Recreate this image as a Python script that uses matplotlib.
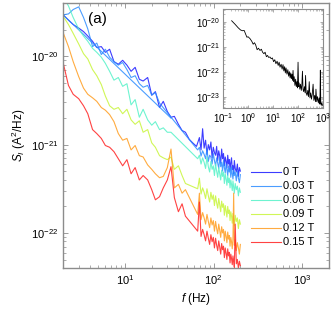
import numpy as np
import matplotlib
matplotlib.use("Agg")
import matplotlib.pyplot as plt
from matplotlib.ticker import LogLocator, NullFormatter

plt.rcParams['font.family'] = ['Liberation Sans', 'DejaVu Sans']
plt.rcParams['mathtext.fontset'] = 'custom'
plt.rcParams['mathtext.rm'] = 'Liberation Sans'
plt.rcParams['mathtext.it'] = 'Liberation Sans:italic'

nan = np.nan

# frequency grid (Hz): low part and dense part
F_lo = [2.0, 2.3, 2.6, 3.0, 3.4, 3.8, 4.3, 4.8, 5.4, 6.0, 6.7, 7.5, 8.4, 9.4,
        10.5, 11.7, 13, 14.5, 16, 18, 20, 22, 24.5, 27, 30, 33, 36, 40, 44,
        48, 53, 58, 64]
F_hi = [66, 69, 72, 75, 78, 81, 84, 87, 90, 93, 96, 99, 102, 105, 108, 111,
        114, 117, 120, 123, 126, 129, 132, 135, 138, 141, 144, 147, 150, 153,
        156, 159, 162, 165, 168, 171, 175, 180, 185, 190, 195, 200]

# log10 of S_I (A^2/Hz), nan = missing point
b0_lo = [-19.53, -19.59, -19.64, -19.68, -19.72, -19.77, -19.83, -19.90, -19.89,
         -19.955, -19.92, -20.06, -20.09, -20.045, -20.10, -20.17, -20.125,
         -20.26, -20.28, -20.24, -20.44, -20.40, -20.58, -20.51, -20.625,
         -20.69, -20.68, -20.77, -20.84, -20.86, -20.94, -20.98, -21.02]
b0_hi = [-20.98, -20.92, -21.06, -20.82, -21.04, -20.95, -21.11, -21.00, -21.06,
         -20.97, -21.15, -21.03, -21.09, -21.12, -21.02, -21.18, -21.07, -21.13,
         -21.21, -21.05, -21.16, -21.10, -21.24, -21.14, -21.19, -21.26, -21.12,
         -21.22, -21.17, -21.29, -21.20, -21.15, -21.28, -21.24, -21.33, -21.18,
         -21.27, -21.31, -21.22, -21.36, -21.26, -21.30]

b3_lo = [-19.53, -19.52, -19.47, -19.44, -19.56, -19.69, -19.89, -19.85, -19.98,
         -19.92, -20.01, -20.06, -20.10, -20.07, -20.15, -20.24, -20.22, -20.31,
         -20.35, -20.33, -20.44, -20.41, -20.53,
         nan, nan, nan, nan, nan, nan, nan, nan, nan, nan]
b3_hi = [-21.06, -21.03, -21.13, -21.07, -21.11, -21.16, -21.05, -21.19, -21.12,
         -21.14, -21.22, -21.10, -21.18, -21.24, -21.15, -21.21, -21.27, -21.14,
         -21.25, -21.20, -21.30, -21.18, -21.26, -21.32, -21.22, -21.28, -21.35,
         -21.24, -21.31, -21.27, -21.37, -21.25, -21.33, -21.39, -21.29, -21.35,
         -21.31, -21.41, -21.30, -21.38, -21.43, -21.34]
# second sweep of 0.03 T (two points joined by a line)
b3_sweep_f = [2.0, 33.0]
b3_sweep = [-19.53, -20.70]

b6_lo = [-19.32, -19.43, -19.56, -19.69, -19.77, -19.83, -19.91, -19.955, -20.01,
         -20.08, -20.17, -20.27, -20.24, -20.34, -20.31, -20.55, -20.49, -20.69,
         -20.60, -20.72, -20.78, -20.74, -20.83, -20.81, -20.86, -20.86,
         nan, nan, nan, nan, nan, nan, nan]
b6_hi = [-21.16, -21.12, -21.22, -21.15, -21.20, -21.27, -21.14, -21.25, -21.31,
         -21.19, -21.28, -21.24, -21.35, -21.22, -21.30, -21.37, -21.26, -21.33,
         -21.40, -21.29, -21.36, -21.31, -21.44, -21.33, -21.39, -21.46, -21.35,
         -21.43, -21.38, -21.49, -21.40, -21.45, -21.52, -21.41, -21.48, -21.55,
         -21.44, -21.51, -21.47, -21.58, -21.49, -21.54]

b9_lo = [-19.545, -19.64, -19.74, -19.86, -19.97, -20.03, -20.15, -20.22, -20.32,
         -20.45, -20.56, -20.60, -20.58, -20.65, -20.60, -20.72, -20.77, -20.73,
         -20.86, -20.83, -20.98, -21.03, -21.125, -21.15, -21.17, -21.14, -21.28,
         -21.24, -21.35, -21.44, nan, nan, nan]
b9_hi = [-21.50, -21.38, -21.56, -21.49, -21.54, -21.61, -21.50, -21.58, -21.65,
         -21.54, -21.62, -21.57, -21.69, -21.58, -21.66, -21.72, -21.61, -21.68,
         -21.76, -21.64, -21.71, -21.67, -21.80, -21.69, -21.75, -21.82, -21.70,
         -21.78, -21.74, -21.86, -21.76, -21.81, -21.89, -21.78, -21.85, -21.92,
         -21.80, -21.87, -21.83, -21.95, -21.85, -21.90]

b12_lo = [-19.73, -19.89, -20.06, -20.23, -20.36, -20.43, -20.47, -20.51, -20.58,
          -20.61, -20.66, -20.74, -20.875, -20.95, -20.93, -21.06, -21.01, -21.125,
          -21.14, -21.23, -21.28, -21.33, -21.375, -21.36, -21.26, -21.05, -21.49,
          -21.45, -21.55, -21.51, nan, nan, nan]
b12_hi = [-21.79, -21.55, -21.85, -21.77, -21.83, -21.90, -21.79, -21.87, -21.94,
          -21.83, -21.91, -21.86, -21.98, -21.87, -21.95, -22.01, -21.90, -21.97,
          -22.05, -21.93, -22.00, -21.96, -22.09, -21.98, -22.04, -22.11, -21.99,
          -22.07, -22.03, -22.15, -22.05, -22.10, -22.18, -22.07, -21.55, -22.14,
          -22.08, -22.20, -22.11, -22.17, -22.24, -22.13]

b15_lo = [-20.07, -20.33, -20.43, -20.48, -20.56, -20.65, -20.83, -20.875, -20.93,
          -21.01, -21.03, -21.08, -21.16, -21.24, -21.17, -21.33, -21.26, -21.40,
          -21.35, -21.40, -21.51, -21.625, -21.59, -21.49, -21.40, -21.25, -21.60,
          -21.76, -21.67, -21.81, nan, nan, nan]
b15_hi = [-21.98, -21.65, -22.04, -21.96, -22.02, -22.09, -21.98, -22.06, -22.13,
          -22.02, -22.10, -22.05, -22.17, -22.06, -22.14, -22.20, -22.09, -22.16,
          -22.24, -22.12, -22.19, -22.15, -22.28, -22.17, -22.23, -22.30, -22.18,
          -22.26, -22.22, -22.34, -22.24, -22.29, -22.36, -22.26, -22.32, -22.39,
          -21.90, -22.35, -22.30, -22.40, -22.32, -22.37]

labels = ['0 T', '0.03 T', '0.06 T', '0.09 T', '0.12 T', '0.15 T']
colors = ['#1a1aff', '#2b8cff', '#55f2c8', '#c8f53a', '#ff9d1f', '#ff2222']
series = [(b0_lo, b0_hi), (b3_lo, b3_hi), (b6_lo, b6_hi),
          (b9_lo, b9_hi), (b12_lo, b12_hi), (b15_lo, b15_hi)]

# inset: full range spectrum at 0 T
in_f = [0.22, 0.30, 0.40, 0.50, 0.60, 0.70, 0.80, 0.90, 1.0, 1.2, 1.4, 1.6, 1.8,
        2.0, 2.3, 2.6, 3.0, 3.4, 3.8, 4.3, 4.8, 5.4, 6.0, 6.7, 7.5, 8.4, 9.4,
        10.5, 11.7, 13, 14.5, 16, 17.5, 19, 21, 23, 25, 27, 29, 31, 33, 36, 39,
        42, 45, 48, 51, 54, 57, 60, 63, 66, 70, 75, 80, 85, 90, 95, 100, 105,
        110, 118, 126, 135, 142, 150, 158, 168, 180, 192, 200, 212, 228, 245,
        262, 280, 300, 320, 345, 370, 400, 430, 465, 500, 520, 560, 600, 650,
        700, 750, 780, 810, 850, 900, 950]
in_s = [-19.96, -20.10, -20.24, -20.33, -20.36, -20.35, -20.50, -20.62, -20.60,
        -20.68, -20.78, -20.90, -20.84, -20.92, -21.12, -21.06, -21.15, -21.10,
        -21.22, -21.28, -21.22, -21.40, -21.35, -21.43, -21.41, -21.48, -21.45,
        -21.60, -21.52, -21.68, -21.58, -21.75, -21.62, -21.82, -21.70, -21.90,
        -21.72, -21.97, -21.80, -22.05, -21.85, -22.10, -21.92, -22.18, -22.00,
        -22.25, -22.05, -22.28, -22.10, -22.35, -21.95, -22.40, -22.20, -22.55,
        -22.30, -22.60, -22.40, -22.65, -21.62, -22.60, -22.45, -22.70, -22.50,
        -22.75, -22.55, -21.98, -22.70, -22.80, -22.60, -22.85, -22.15, -22.85,
        -22.95, -22.75, -23.00, -22.40, -23.05, -22.85, -23.10, -22.90, -22.50,
        -23.15, -22.95, -23.20, -22.70, -23.20, -23.00, -23.25, -23.05, -23.30,
        -21.94, -23.20, -23.35, -23.25, -23.35]

grey = '#8c8c8c'

fig = plt.figure(figsize=(3.32, 3.15), dpi=100)
ax = fig.add_axes([0.19, 0.149, 0.801, 0.841])

for (lo, hi), c, lab in zip(series, colors, labels):
    f = np.array(F_lo + F_hi, dtype=float)
    s = np.array(lo + hi, dtype=float)
    ok = np.isfinite(s)
    ax.loglog(f[ok], 10.0 ** s[ok], color=c, lw=0.8, alpha=0.85, label=lab)
    if lab == '0.03 T':
        ax.loglog(b3_sweep_f, 10.0 ** np.array(b3_sweep), color=c, lw=0.8,
                  alpha=0.85)

ax.set_xlim(2, 2000)
ax.set_ylim(4e-23, 4e-20)
ax.set_xlabel('$f$ (Hz)', fontsize=8.5, labelpad=3)
ax.set_ylabel('$S_I$ (A$^2$/Hz)', fontsize=8.5, labelpad=2)
ax.tick_params(which='both', direction='in', top=True, right=True,
               labelsize=8, color=grey)
ax.tick_params(which='major', length=3.5, width=0.6)
ax.tick_params(which='minor', length=2, width=0.5)
for sp in ax.spines.values():
    sp.set_color(grey)
    sp.set_linewidth(1.0)

ax.text(0.093, 0.965, '(a)', transform=ax.transAxes, fontsize=11,
        ha='left', va='top')

leg = ax.legend(loc='upper left', bbox_to_anchor=(0.705, 0.38), frameon=False,
                fontsize=8, handlelength=2.7, handletextpad=0.2,
                labelspacing=0.36, borderpad=0, borderaxespad=0)

# inset
axi = fig.add_axes([0.672, 0.657, 0.301, 0.314])
axi.loglog(in_f, 10.0 ** np.array(in_s), color='black', lw=0.6)
axi.set_xlim(0.1, 1000)
axi.set_ylim(3.5e-24, 3.2e-20)
axi.xaxis.set_major_locator(LogLocator(base=10, numticks=10))
axi.yaxis.set_major_locator(LogLocator(base=10, numticks=10))
axi.xaxis.set_minor_locator(LogLocator(base=10, subs=np.arange(2, 10), numticks=10))
axi.yaxis.set_minor_locator(LogLocator(base=10, subs=np.arange(2, 10), numticks=10))
axi.xaxis.set_minor_formatter(NullFormatter())
axi.yaxis.set_minor_formatter(NullFormatter())
axi.tick_params(which='both', direction='in', top=True, right=True,
                labelsize=7, color=grey, pad=2)
axi.tick_params(which='major', length=2.5, width=0.5)
axi.tick_params(which='minor', length=1.3, width=0.4)
for sp in axi.spines.values():
    sp.set_color(grey)
    sp.set_linewidth(0.8)

fig.savefig('out.png', dpi=100)
